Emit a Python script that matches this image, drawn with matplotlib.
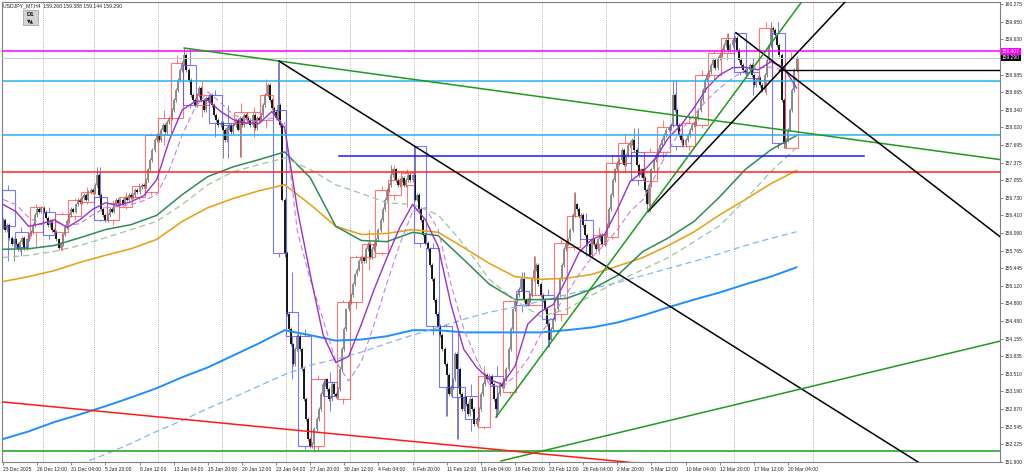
import numpy as np
import matplotlib
matplotlib.use('Agg')
import matplotlib.pyplot as plt
import matplotlib.transforms as mtransforms
from matplotlib.patches import Rectangle

plt.rcParams['font.family'] = ['Liberation Sans', 'DejaVu Sans']

#H4 bars per trading day (25 Dec only one bar, 1 Jan missing)
day_bars = [6, 6, 1, 6, 6, 6, 6, 6] + [6] * 55

#D1 candles (boxes)
d1_open = [156.88, 156.11, 156.00, 156.10, 156.48, 156.11, 156.39, 156.66, 156.75, 156.33,
           156.57, 156.75, 156.84, 157.88, 158.19, 159.16, 158.43, 158.61, 158.10, 158.10,
           158.16, 158.16, 158.34, 154.65, 154.20, 152.19, 153.36, 153.05, 154.82, 155.64,
           155.73, 156.79, 156.97, 157.67, 155.82, 154.38, 153.27, 153.10, 152.54, 153.47,
           153.18, 155.02, 154.78, 154.96, 154.60, 155.84, 156.33, 155.88, 156.02, 157.37,
           157.57, 157.03, 157.56, 158.07, 157.67, 158.07, 158.98, 159.38, 159.75, 159.03,
           158.89, 159.75, 157.65]
d1_high = [156.97, 156.19, 156.11, 156.61, 156.57, 156.48, 156.73, 156.92, 157.30, 156.70,
           156.83, 157.01, 157.92, 158.34, 159.34, 159.47, 158.89, 158.70, 158.43, 158.47,
           158.40, 158.91, 159.22, 155.37, 154.33, 153.50, 153.54, 154.87, 155.69, 156.15,
           156.94, 157.34, 157.25, 157.67, 155.91, 154.42, 154.33, 153.32, 153.65, 153.65,
           154.87, 155.37, 155.66, 155.06, 155.97, 156.83, 156.46, 156.19, 157.52, 157.92,
           158.01, 157.65, 158.16, 158.89, 158.25, 159.07, 159.44, 159.75, 159.75, 159.29,
           159.95, 159.95, 159.39]
d1_low = [155.57, 155.66, 155.97, 155.84, 155.97, 155.75, 156.33, 156.61, 156.30, 156.24,
          156.52, 156.70, 156.79, 157.70, 158.12, 158.38, 158.21, 157.85, 157.46, 157.48,
          157.85, 158.01, 155.64, 153.41, 152.14, 152.08, 152.83, 152.96, 154.69, 155.42,
          155.68, 156.70, 156.57, 155.84, 154.23, 152.74, 152.32, 152.46, 152.50, 152.72,
          153.14, 154.64, 154.78, 154.00, 154.47, 155.78, 155.66, 155.70, 155.97, 157.19,
          156.97, 156.48, 157.46, 157.61, 157.61, 158.01, 158.89, 159.25, 158.98, 158.61,
          158.61, 157.64, 157.64]
d1_close = [156.21, 155.84, 156.06, 156.57, 156.06, 156.44, 156.70, 156.84, 156.33, 156.64,
            156.75, 156.94, 157.88, 158.19, 159.20, 158.43, 158.61, 158.10, 158.07, 158.30,
            158.30, 158.61, 155.73, 154.20, 152.19, 153.41, 153.10, 154.82, 155.64, 155.88,
            156.88, 157.06, 157.19, 155.91, 154.38, 153.27, 153.09, 152.68, 153.47, 153.29,
            154.84, 154.78, 154.96, 154.51, 155.91, 156.39, 155.97, 156.06, 157.37, 157.74,
            157.06, 157.57, 158.03, 157.67, 158.10, 158.98, 159.38, 159.65, 159.03, 158.92,
            159.84, 157.74, 159.29]

#H4 closes, one row per day
h4_open0 = 156.20
h4_close = [
    156.33, 156.15, 156.24, 156.00, 155.88, 155.97,
    155.88, 155.79, 155.93, 156.00, 155.82, 155.97,
    156.06,
    156.11, 156.24, 156.42, 156.52, 156.48, 156.55,
    156.48, 156.37, 156.24, 156.30, 156.15, 156.10,
    155.97, 155.82, 155.88, 156.06, 156.19, 156.30,
    156.42, 156.52, 156.48, 156.61, 156.70, 156.66,
    156.73, 156.79, 156.70, 156.83, 156.88, 156.84,
    156.97, 157.15, 156.79, 156.52, 156.42, 156.33,
    156.42, 156.52, 156.48, 156.61, 156.70, 156.64,
    156.70, 156.61, 156.73, 156.70, 156.79, 156.75,
    156.79, 156.88, 156.84, 156.92, 156.97, 156.94,
    157.06, 157.25, 157.43, 157.61, 157.79, 157.88,
    157.79, 157.98, 158.07, 157.94, 158.12, 158.19,
    158.34, 158.52, 158.71, 158.89, 159.07, 159.20,
    159.34, 159.07, 158.89, 158.61, 158.52, 158.43,
    158.61, 158.74, 158.52, 158.34, 158.56, 158.52,
    158.61, 158.43, 158.25, 158.16, 158.07, 158.10,
    157.98, 157.79, 158.01, 158.07, 157.94, 158.07,
    158.16, 157.98, 158.19, 158.07, 158.25, 158.19,
    158.16, 158.07, 158.25, 158.01, 158.19, 158.16,
    158.25, 158.43, 158.61, 158.80, 158.52, 158.38,
    158.30, 158.19, 158.43, 158.07, 156.70, 155.73,
    154.60, 154.33, 154.05, 153.69, 153.96, 154.20,
    153.96, 153.60, 153.05, 152.68, 152.32, 152.19,
    152.23, 152.50, 152.68, 152.87, 153.14, 153.32,
    153.41, 153.23, 153.05, 153.32, 153.14, 153.10,
    153.23, 153.60, 153.96, 154.33, 154.69, 154.82,
    154.96, 155.15, 155.33, 155.42, 155.57, 155.64,
    155.57, 155.79, 155.88, 155.64, 155.79, 155.88,
    155.97, 156.15, 156.33, 156.52, 156.70, 156.88,
    156.97, 157.15, 157.25, 157.06, 156.97, 157.06,
    157.10, 156.97, 157.06, 157.15, 157.06, 157.14,
    156.70, 156.79, 156.52, 156.33, 156.06, 155.91,
    155.79, 155.51, 155.24, 154.87, 154.60, 154.38,
    154.23, 153.96, 153.69, 153.50, 153.14, 153.27,
    153.41, 153.87, 153.60, 153.14, 152.87, 153.08,
    152.96, 152.77, 153.05, 152.87, 152.59, 152.68,
    152.87, 153.14, 153.32, 153.50, 153.41, 153.47,
    153.32, 153.05, 152.87, 153.14, 153.32, 153.29,
    153.41, 153.60, 153.96, 154.33, 154.69, 154.84,
    154.96, 155.06, 155.24, 154.87, 154.78, 154.87,
    154.96, 155.24, 155.42, 155.51, 155.15, 154.96,
    154.87, 154.69, 154.42, 154.14, 154.33, 154.51,
    154.69, 154.96, 155.24, 155.51, 155.79, 155.91,
    155.97, 156.15, 156.42, 156.61, 156.52, 156.39,
    156.42, 156.24, 156.06, 155.88, 155.69, 155.97,
    155.88, 155.79, 155.97, 156.06, 155.88, 156.06,
    156.24, 156.52, 156.79, 157.06, 157.25, 157.37,
    157.43, 157.61, 157.34, 157.52, 157.70, 157.74,
    157.79, 157.61, 157.34, 157.15, 157.25, 157.10,
    156.88, 156.61, 156.97, 157.25, 157.43, 157.52,
    157.61, 157.70, 157.79, 157.88, 157.98, 158.01,
    158.07, 158.61, 158.34, 158.07, 157.88, 157.79,
    157.70, 157.79, 157.88, 157.98, 158.07, 158.10,
    158.19, 158.34, 158.52, 158.71, 158.89, 158.98,
    159.03, 159.16, 159.25, 159.11, 159.29, 159.34,
    159.44, 159.53, 159.62, 159.44, 159.53, 159.62,
    159.65, 159.44, 159.25, 159.16, 159.07, 159.03,
    159.07, 159.16, 158.98, 158.80, 158.89, 158.92,
    158.80, 158.71, 158.98, 159.25, 159.53, 159.84,
    159.80, 159.71, 159.53, 159.34, 158.52, 157.74,
    157.79, 157.98, 158.34, 158.71, 159.07, 159.29,
]
#long wicks (bar -> price)
h4_spike_hi = {44: 157.30, 85: 159.47, 129: 159.22, 182: 157.34, 193: 157.67, 244: 155.37,
               249: 155.66, 268: 156.83, 296: 158.01, 314: 158.89, 340: 159.75, 360: 159.95}
h4_spike_lo = {5: 155.57, 103: 157.46, 111: 157.48, 132: 155.64, 146: 152.08, 208: 152.74,
               213: 152.32, 231: 152.72, 256: 154.00, 302: 156.48, 366: 157.64, 367: 157.64}

#moving averages
ma_fast_x = list(range(0, 373, 6))
ma_slow_x = list(range(0, 373, 12))
ma_blue_dash_x = list(range(36, 373, 12))
ma_purple = [156.61, 156.48, 156.21, 156.26, 156.33, 156.19, 156.33, 156.52, 156.64, 156.59,
             156.66, 156.77, 157.06, 157.79, 158.34, 158.49, 158.52, 158.31, 158.16, 158.10,
             158.09, 158.31, 158.01, 156.52, 155.33, 154.23, 153.72, 153.83, 154.42, 155.06,
             155.64, 156.19, 156.61, 156.33, 155.84, 154.78, 153.96, 153.63, 153.41, 153.32,
             153.65, 154.42, 154.65, 154.78, 155.24, 155.73, 155.97, 156.06, 156.52, 157.03,
             157.21, 157.46, 157.83, 158.07, 158.38, 158.74, 158.98, 159.11, 159.12, 159.07,
             159.22, 159.12, 158.74]
ma_purple_dash = [156.70, 156.61, 156.37, 156.24, 156.30, 156.22, 156.26, 156.42, 156.55, 156.57,
                  156.61, 156.68, 156.79, 157.25, 157.88, 158.38, 158.67, 158.47, 158.25, 158.16,
                  158.12, 158.19, 158.12, 156.11, 155.24, 154.51, 153.74, 153.38, 153.74, 154.42,
                  155.18, 155.88, 156.48, 156.55, 156.15, 155.15, 154.33, 153.78, 153.32, 153.27,
                  153.47, 153.78, 154.23, 154.60, 154.96, 155.33, 155.64, 155.88, 156.15, 156.48,
                  156.70, 157.15, 157.61, 157.98, 158.25, 158.52, 158.74, 158.92, 159.07, 159.11,
                  159.12, 159.07, 158.92]
ma_orange = [155.20, 155.29, 155.40, 155.55, 155.68, 155.80, 155.97, 156.30, 156.55, 156.72,
             156.86, 156.97, 156.61, 156.21, 156.06, 156.08, 156.15, 156.10, 155.82, 155.53,
             155.29, 155.24, 155.26, 155.33, 155.48, 155.64, 155.86, 156.11, 156.42, 156.70,
             156.99, 157.23]
ma_green = [155.79, 155.80, 155.86, 156.00, 156.15, 156.24, 156.41, 156.79, 157.12, 157.30,
            157.43, 157.57, 157.10, 156.21, 155.95, 155.93, 156.10, 156.04, 155.60, 155.15,
            154.87, 154.87, 154.89, 155.06, 155.31, 155.75, 156.00, 156.30, 156.75, 157.25,
            157.61, 157.87]
ma_green_dash = [155.64, 155.68, 155.75, 155.86, 156.00, 156.15, 156.30, 156.61, 156.97, 157.21,
                 157.34, 157.46, 157.25, 156.97, 156.81, 156.64, 156.61, 156.42, 155.88, 155.24,
                 154.86, 154.56, 154.69, 154.95, 155.20, 155.42, 155.64, 155.93, 156.22, 156.70,
                 157.21, 157.65]
ma_blue = [152.32, 152.46, 152.63, 152.77, 152.92, 153.08, 153.25, 153.45, 153.63, 153.85,
           154.07, 154.31, 154.22, 154.12, 154.14, 154.20, 154.31, 154.31, 154.27, 154.27,
           154.27, 154.27, 154.31, 154.36, 154.45, 154.58, 154.73, 154.87, 155.00, 155.15,
           155.29, 155.46]
ma_blue_dash = [151.86, 152.04, 152.24, 152.46, 152.66, 152.88, 153.08, 153.29, 153.50, 153.67,
                153.78, 153.91, 154.07, 154.22, 154.36, 154.51, 154.64, 154.73, 154.84, 154.96,
                155.07, 155.18, 155.31, 155.44, 155.57, 155.71, 155.86, 155.99, 156.11]

#horizontal levels
lvl_magenta = 159.407
lvl_bid = 159.290
lvl_cyan = [158.87, 157.88]
lvl_red = 157.21
lvl_green = 152.10
seg_blue = (157.5, 403.7, 157.50)
seg_black = (364, 467.4, 159.07)

#trendlines (bar1, price1, bar2, price2, colour)
trends = [(84.9, 159.47, 467.4, 157.43, '#1f9a1f'),
          (129.4, 159.23, 440.0, 151.63, 'black'),
          (343.6, 159.75, 467.4, 156.02, 'black'),
          (302.4, 156.48, 400.0, 160.53, 'black'),
          (231.1, 152.72, 380.0, 160.61, '#1f9a1f'),
          (233.5, 151.92, 467.4, 154.11, '#1f9a1f'),
          (-0.5, 153.00, 300.0, 151.87, '#ff1a1a')]

week_starts = [19, 43, 73, 103, 133, 163, 193, 223, 253, 283, 313, 343, 380]
date_bars = list(range(0, 369, 16))
date_labels = ['23 Dec 2025', '26 Dec 12:00', '31 Dec 04:00', '5 Jan 20:00', '8 Jan 12:00',
               '13 Jan 04:00', '15 Jan 20:00', '20 Jan 12:00', '23 Jan 04:00', '27 Jan 20:00',
               '30 Jan 12:00', '4 Feb 04:00', '6 Feb 20:00', '11 Feb 12:00', '16 Feb 04:00',
               '18 Feb 20:00', '23 Feb 12:00', '26 Feb 04:00', '2 Mar 20:00', '5 Mar 12:00',
               '10 Mar 04:00', '12 Mar 20:00', '17 Mar 12:00', '20 Mar 04:00']
price_ticks = [160.275, 159.950, 159.630, 158.985, 158.665, 158.340, 158.020, 157.695,
               157.375, 157.055, 156.730, 156.410, 156.090, 155.765, 155.445, 155.120,
               154.800, 154.480, 154.155, 153.835, 153.510, 153.190, 152.870, 152.545,
               152.225, 151.900]

W, H = 1024, 475
fig = plt.figure(figsize=(W / 100, H / 100), dpi=100)
fig.patch.set_facecolor('white')
ax = fig.add_axes([2 / W, 1 - 462 / H, 998 / W, 460 / H])
ax.set_xlim(-0.5, 467.4)
ax.set_ylim(151.917, 160.312)

#period separators
for b in week_starts:
    ax.axvline(b - 0.5, color='#9a9a9a', ls=(0, (1, 1.5)), lw=0.6, zorder=1)

#H4 candles
close = np.array(h4_close)
opn = np.concatenate([[h4_open0], close[:-1]])
hi = np.maximum(opn, close) + 0.035
lo = np.minimum(opn, close) - 0.035
for b, v in h4_spike_hi.items():
    hi[b] = v
for b, v in h4_spike_lo.items():
    lo[b] = v
xb = np.arange(len(close))
ax.vlines(xb, lo, hi, color='#6f6f6f', lw=0.6, zorder=2)
bull = close >= opn
ax.vlines(xb[bull], opn[bull], close[bull], color='#8a8a8a', lw=1.35, zorder=3)
ax.vlines(xb[~bull], opn[~bull], close[~bull], color='#0d0d0d', lw=1.35, zorder=3)

#D1 boxes
starts = np.concatenate([[0], np.cumsum(day_bars)[:-1]])
for s, n, o, h, l, c in zip(starts, day_bars, d1_open, d1_high, d1_low, d1_close):
    col = '#ff4a4a' if c >= o else '#4a4aff'
    ax.add_patch(Rectangle((s - 0.5, min(o, c)), n, abs(c - o), fill=False,
                           edgecolor=col, lw=0.8, alpha=0.75, zorder=4))
    mid = s + (n - 1) / 2
    ax.vlines(mid, max(o, c), h, color=col, lw=0.7, alpha=0.75, zorder=4)
    ax.vlines(mid, l, min(o, c), color=col, lw=0.7, alpha=0.75, zorder=4)

#moving averages
ax.plot(ma_slow_x, ma_blue, color='#1e8fff', lw=1.4, zorder=5)
ax.plot(ma_blue_dash_x, ma_blue_dash, color='#7fb9f2', lw=0.9, ls=(0, (5, 3)), zorder=5)
ax.plot(ma_slow_x, ma_orange, color='#e6a520', lw=1.2, zorder=5)
ax.plot(ma_slow_x, ma_green, color='#2e8b57', lw=1.1, zorder=5)
ax.plot(ma_slow_x, ma_green_dash, color='#9cc79c', lw=0.9, ls=(0, (5, 3)), zorder=5)
ax.plot(ma_fast_x, ma_purple_dash, color='#c77fe6', lw=0.8, ls=(0, (5, 3)), zorder=5)
ax.plot(ma_fast_x, ma_purple, color='#9932cc', lw=1.0, zorder=5)

#levels
ax.axhline(lvl_bid, color='#c8c8c8', lw=0.7, zorder=5)
ax.axhline(lvl_magenta, color='#ff00ff', lw=1.1, zorder=6)
for v in lvl_cyan:
    ax.axhline(v, color='#2ab0f0', lw=1.1, zorder=6)
ax.axhline(lvl_red, color='#ff2020', lw=1.1, zorder=6)
ax.axhline(lvl_green, color='#3cad3c', lw=1.3, zorder=6)
ax.plot(seg_blue[:2], [seg_blue[2]] * 2, color='#1a1aff', lw=1.1, zorder=6)
ax.plot(seg_black[:2], [seg_black[2]] * 2, color='black', lw=1.0, zorder=6)

for x1, y1, x2, y2, col in trends:
    ax.plot([x1, x2], [y1, y2], color=col, lw=1.1, zorder=6)

#axes look
for sp in ax.spines.values():
    sp.set_color('#808080')
    sp.set_linewidth(0.8)
ax.yaxis.tick_right()
ax.set_yticks(price_ticks)
ax.set_yticklabels(['%.3f' % v for v in price_ticks], fontsize=3.5, color='#222222')
ax.tick_params(axis='y', length=2, width=0.5, pad=1, colors='#555555', labelcolor='#222222')
ax.set_xticks(date_bars)
ax.set_xticklabels(date_labels, fontsize=3.6, ha='left', color='#222222')
ax.tick_params(axis='x', length=2, width=0.5, pad=1.5, colors='#555555', labelcolor='#222222')

trans = mtransforms.blended_transform_factory(ax.transAxes, ax.transData)
ax.text(1.002, lvl_magenta, '159.407', transform=trans, fontsize=3.5, color='white',
        va='center', ha='left', zorder=10,
        bbox=dict(boxstyle='square,pad=0.15', fc='#ff00ff', ec='none'))
ax.text(1.002, lvl_bid, '159.290', transform=trans, fontsize=3.5, color='white',
        va='center', ha='left', zorder=10,
        bbox=dict(boxstyle='square,pad=0.15', fc='black', ec='none'))

#title and D1 button
fig.text(3 / W, 1 - 6 / H, 'USDJPY_MT,H4  159.268 159.388 159.144 159.290',
         fontsize=3.7, va='center', ha='left', color='#222222')
fig.patches.append(Rectangle((23 / W, 1 - 25 / H), 15 / W, 15 / H, transform=fig.transFigure,
                             facecolor='#d4d4d4', edgecolor='#9a9a9a', lw=0.5))
fig.text(30.5 / W, 1 - 14 / H, 'D1', fontsize=4.3, va='center', ha='center',
         color='#111111', fontweight='bold')
fig.text(30.5 / W, 1 - 21 / H, '\u25bc\u25b2', fontsize=3.3, va='center', ha='center',
         color='#222222', family=['DejaVu Sans'])

fig.savefig('out.png', dpi=100, facecolor='white')
